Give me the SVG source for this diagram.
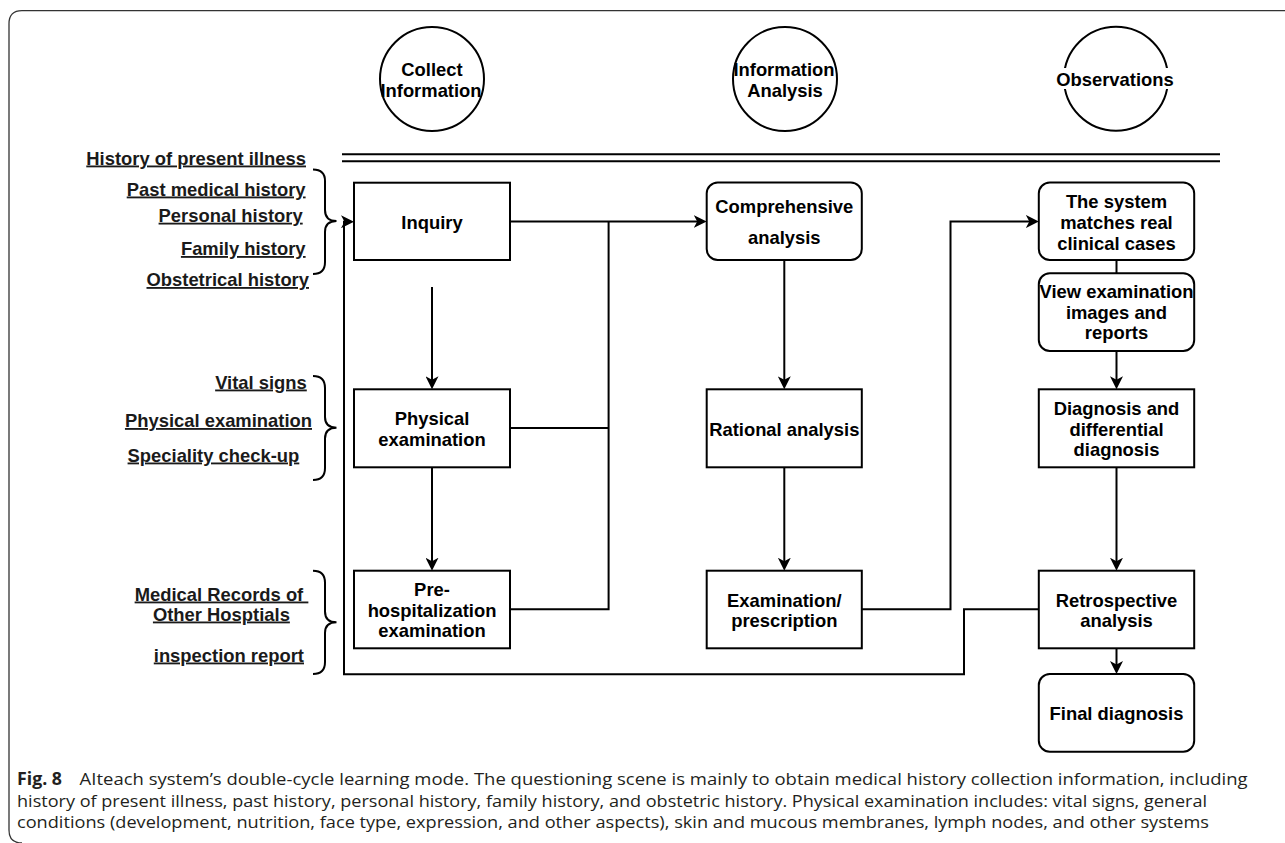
<svg xmlns="http://www.w3.org/2000/svg" width="1285" height="843" viewBox="0 0 1285 843">
<defs>
<style>
.box{fill:#fff;stroke:#000;stroke-width:2}
.circ{fill:#fff;stroke:#000;stroke-width:2}
.t{font-family:"Liberation Sans",Arial,Helvetica,sans-serif;font-weight:bold;font-size:18.4px;fill:#000;text-anchor:middle}
.s{font-family:"Liberation Sans",Arial,Helvetica,sans-serif;font-weight:bold;font-size:18.4px;fill:#1a1a1a;text-anchor:end;text-decoration:underline}
.conn{fill:none;stroke:#000;stroke-width:2}
.brace{fill:none;stroke:#000;stroke-width:2}
.cap{font-family:"Open Sans","Noto Sans","Liberation Sans",sans-serif;font-size:17px;fill:#231f20}
</style>
<marker id="arr" markerUnits="userSpaceOnUse" viewBox="0 0 13 13" markerWidth="13" markerHeight="13" refX="9" refY="6.5" orient="auto">
<path d="M0,0 L13,6.5 L0,13 L3.5,6.5 Z" fill="#000"/>
</marker>
</defs>
<rect width="1285" height="843" fill="#fff"/>
<path d="M1285,10.7 H22 Q9,10.7 9,23.7 V830 Q9,843 22,843" fill="none" stroke="#333" stroke-width="1.3"/>

<g id="phase-headers">
<g id="collect-information">
<circle class="circ" cx="432" cy="79" r="52"/>
<text class="t" x="432" y="76">Collect</text>
<text class="t" x="431" y="96.7">Information</text>
</g>
<g id="information-analysis">
<circle class="circ" cx="785" cy="79" r="52"/>
<text class="t" x="784" y="76">Information</text>
<text class="t" x="785" y="96.7">Analysis</text>
</g>
<g id="observations">
<circle class="circ" cx="1116" cy="78.7" r="52"/>
<rect x="1058" y="68" width="115" height="21" fill="#fff"/>
<text class="t" x="1115" y="86">Observations</text>
</g>
</g>

<g id="divider">
<line x1="342" y1="154.3" x2="1220" y2="154.3" stroke="#000" stroke-width="2"/>
<line x1="342" y1="161.3" x2="1220" y2="161.3" stroke="#000" stroke-width="2"/>
</g>

<g id="side-labels">
<text class="s" x="306" y="164.5">History of present illness</text>
<text class="s" x="305.6" y="195.5">Past medical history</text>
<text class="s" x="302.7" y="221.7">Personal history</text>
<text class="s" x="305.6" y="255">Family history</text>
<text class="s" x="309" y="286">Obstetrical history</text>
<text class="s" x="306.8" y="388.5">Vital signs</text>
<text class="s" x="312" y="427">Physical examination</text>
<text class="s" x="299.3" y="461.5">Speciality check-up</text>
<text class="s" x="221.5" y="600.5" style="text-anchor:middle">Medical Records of&#160;</text>
<text class="s" x="221.4" y="620.5" style="text-anchor:middle">Other Hosptials</text>
<text class="s" x="304" y="661.5">inspection report</text>
</g>

<g id="braces">
<path class="brace" d="M313,169.5 Q325,169.5 325,181 L325,210 Q325,221 336.5,221 Q325,221 325,232 L325,262 Q325,274 313,274"/>
<path class="brace" d="M313,376 Q325,376 325,388 L325,417 Q325,427.7 336.5,427.7 Q325,427.7 325,438.5 L325,468 Q325,480 313,480"/>
<path class="brace" d="M313,570.7 Q325,570.7 325,582.7 L325,611.5 Q325,622.3 336.5,622.3 Q325,622.3 325,633 L325,662 Q325,674 313,674"/>
</g>

<g id="connectors">
<path class="conn" d="M510,221.5 H702.7" marker-end="url(#arr)"/>
<path class="conn" d="M510,428 H608.6"/>
<path class="conn" d="M510,609.3 H608.6 V221.5"/>
<path class="conn" d="M432,287 V385.3" marker-end="url(#arr)"/>
<path class="conn" d="M432,467.3 V566.7" marker-end="url(#arr)"/>
<path class="conn" d="M784.3,260 V385.3" marker-end="url(#arr)"/>
<path class="conn" d="M784.3,467.3 V566.7" marker-end="url(#arr)"/>
<path class="conn" d="M861.8,609.3 H950.5 V221.5 H1034.8" marker-end="url(#arr)"/>
<path class="conn" d="M1116.5,260 V273.3"/>
<path class="conn" d="M1116.5,351 V385.3" marker-end="url(#arr)"/>
<path class="conn" d="M1116.5,467.3 V566.7" marker-end="url(#arr)"/>
<path class="conn" d="M1116.5,648.3 V670" marker-end="url(#arr)"/>
<path class="conn" d="M1038.8,609.3 H964 V674.3 H344 V221.7 H350" marker-end="url(#arr)"/>
</g>

<g id="inquiry">
<rect class="box" x="354" y="182.7" width="156" height="77.3"/>
<text class="t" x="432" y="229">Inquiry</text>
</g>
<g id="physical-examination">
<rect class="box" x="354" y="389.3" width="156" height="78"/>
<text class="t" x="432" y="425">Physical</text>
<text class="t" x="432" y="446">examination</text>
</g>
<g id="pre-hospitalization-examination">
<rect class="box" x="354" y="570.7" width="156" height="77.6"/>
<text class="t" x="432" y="596">Pre-</text>
<text class="t" x="432" y="616.5">hospitalization</text>
<text class="t" x="432" y="637">examination</text>
</g>

<g id="comprehensive-analysis">
<rect class="box" x="706.7" y="182.5" width="155.1" height="77.5" rx="11" ry="11"/>
<text class="t" x="784.3" y="212.5">Comprehensive</text>
<text class="t" x="784.3" y="244">analysis</text>
</g>
<g id="rational-analysis">
<rect class="box" x="706.7" y="389.3" width="155.1" height="78"/>
<text class="t" x="784.3" y="436">Rational analysis</text>
</g>
<g id="examination-prescription">
<rect class="box" x="706.7" y="570.7" width="155.1" height="77.6"/>
<text class="t" x="784.3" y="606.5">Examination/</text>
<text class="t" x="784.3" y="627">prescription</text>
</g>

<g id="system-matches">
<rect class="box" x="1038.8" y="182.5" width="155.4" height="77.5" rx="11" ry="11"/>
<text class="t" x="1116.5" y="208">The system</text>
<text class="t" x="1116.5" y="229">matches real</text>
<text class="t" x="1116.5" y="249.5">clinical cases</text>
</g>
<g id="view-examination">
<rect class="box" x="1038.8" y="273.3" width="155.4" height="77.7" rx="11" ry="11"/>
<text class="t" x="1116.5" y="298">View examination</text>
<text class="t" x="1116.5" y="319">images and</text>
<text class="t" x="1116.5" y="339">reports</text>
</g>
<g id="diagnosis">
<rect class="box" x="1038.8" y="389.3" width="155.4" height="78"/>
<text class="t" x="1116.5" y="415">Diagnosis and</text>
<text class="t" x="1116.5" y="435.5">differential</text>
<text class="t" x="1116.5" y="456">diagnosis</text>
</g>
<g id="retrospective-analysis">
<rect class="box" x="1038.8" y="570.7" width="155.4" height="77.6"/>
<text class="t" x="1116.5" y="606.5">Retrospective</text>
<text class="t" x="1116.5" y="627">analysis</text>
</g>
<g id="final-diagnosis">
<rect class="box" x="1038.8" y="674" width="155.4" height="77.7" rx="11" ry="11"/>
<text class="t" x="1116.5" y="720">Final diagnosis</text>
</g>

<g id="caption">
<text class="cap" x="17" y="785" font-weight="bold" textLength="45" lengthAdjust="spacingAndGlyphs">Fig. 8</text>
<text class="cap" x="79.6" y="785" textLength="1168" lengthAdjust="spacingAndGlyphs">AIteach system’s double-cycle learning mode. The questioning scene is mainly to obtain medical history collection information, including</text>
<text class="cap" x="17" y="806.5" textLength="1190" lengthAdjust="spacingAndGlyphs">history of present illness, past history, personal history, family history, and obstetric history. Physical examination includes: vital signs, general</text>
<text class="cap" x="17" y="828" textLength="1192" lengthAdjust="spacingAndGlyphs">conditions (development, nutrition, face type, expression, and other aspects), skin and mucous membranes, lymph nodes, and other systems</text>
</g>
</svg>
